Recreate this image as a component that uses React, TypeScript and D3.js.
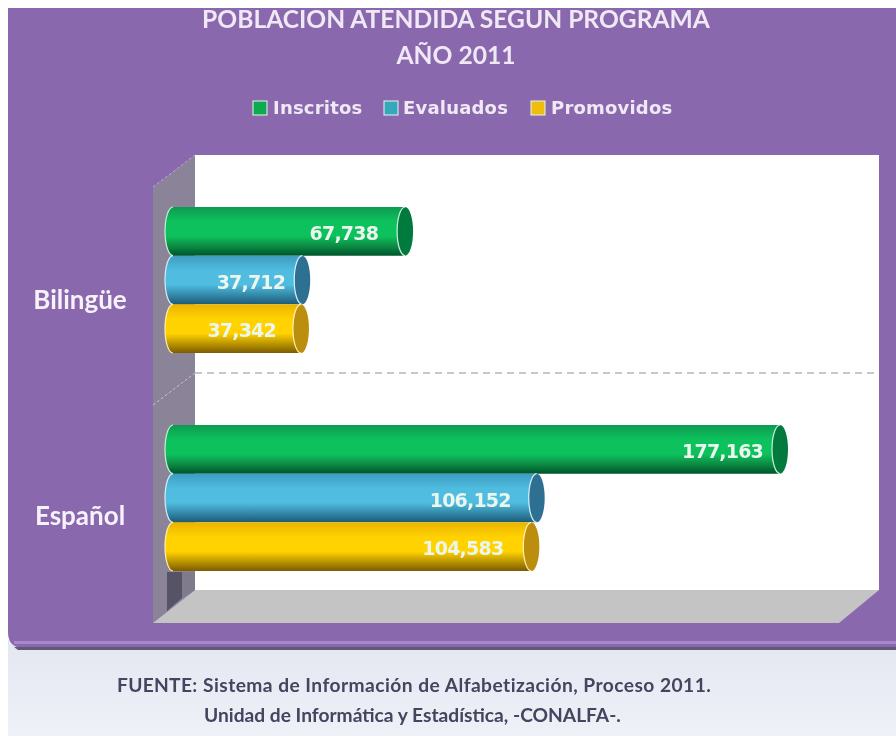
import React from "react";
import * as d3 from "d3";

const categories = ["Bilingüe", "Español"];
const seriesNames = ["Inscritos", "Evaluados", "Promovidos"];
const inscritos = [67738, 177163];
const evaluados = [37712, 106152];
const promovidos = [37342, 104583];
const seriesValues = [inscritos, evaluados, promovidos];
const titleLines = ["POBLACION ATENDIDA SEGUN PROGRAMA", "AÑO 2011"];
const sourceLabel = "FUENTE:";
const sourceLines = [
  "Sistema de Información de Alfabetización, Proceso 2011.",
  "Unidad de Informática y Estadística, -CONALFA-.",
];

const palette = [
  { top: "#0a9a50", mid: "#0cc25c", bot: "#04552c", cap: "#067a3e", edge: "#c8efd8", legend: "#0aab50" },
  { top: "#3c9cc0", mid: "#4fbce0", bot: "#1c5a76", cap: "#2f7092", edge: "#d4eef8", legend: "#36a8bc" },
  { top: "#eab400", mid: "#ffd200", bot: "#7c5c00", cap: "#bc8e08", edge: "#ffeeb0", legend: "#eebd10" },
];

const x = d3.scaleLinear().domain([0, 177163]).range([173, 780]);
const groupY = d3.scaleBand<string>().domain(categories).range([172, 608]);
const barY = d3.scaleBand<string>().domain(seriesNames).range([0, 146]);
const fmt = d3.format(",");
const capRx = 8;
const labelInset = [
  [27, 17, 25],
  [17, 26, 28],
];
const legendSwatchX = [253, 384, 531];
const legendTextX = [273, 403, 551];
const lato = "Lato, 'Open Sans', sans-serif";
const dejavu = "'DejaVu Sans', Verdana, sans-serif";

export default function App() {
  const bh = barY.bandwidth();
  const startX = x(0);
  return (
    <svg width={896} height={736} style={{ position: "absolute", left: 0, top: 0 }}>
      <defs>
        {palette.map((p, i) => (
          <linearGradient key={i} id={`bar${i}`} x1="0" y1="0" x2="0" y2="1">
            <stop offset="0" stopColor={p.top} />
            <stop offset="0.3" stopColor={p.mid} />
            <stop offset="0.6" stopColor={p.mid} />
            <stop offset="1" stopColor={p.bot} />
          </linearGradient>
        ))}
        <linearGradient id="bg" x1="0" y1="0" x2="0" y2="1">
          <stop offset="0" stopColor="#e4e7f1" />
          <stop offset="1" stopColor="#eff1f8" />
        </linearGradient>
        <filter id="soft" x="-5%" y="-5%" width="110%" height="110%">
          <feGaussianBlur stdDeviation="0.45" />
        </filter>
      </defs>

      <rect x={0} y={0} width={896} height={736} fill="#ffffff" />
      <rect x={8} y={640} width={888} height={96} fill="url(#bg)" />
      <path d="M8,8 H896 V648 H24 Q8,648 8,632 Z" fill="#8a68ae" />
      <rect x={14} y={641} width={882} height={3} fill="#a887cc" />
      <path d="M14,647 H896 V650 H18 Z" fill="#5f5a78" />

      <g filter="url(#soft)">
        {/* wall, side wall, floor */}
        <rect x={195} y={155} width={684} height={435} fill="#ffffff" />
        <polygon points="153,187 195,155 195,590 153,623" fill="#8b8397" />
        <polygon points="153,623 195,590 879,590 839,623" fill="#c4c4c4" />
        <polygon points="167,572 182,572 182,598 167,611" fill="#575366" />
        <polygon points="182,572 195,572 195,590 182,598" fill="#7f7a8c" />
        <line x1={195} x2={879} y1={373} y2={373} stroke="#8f8f8f" strokeWidth={1} strokeDasharray="7 5" />
        <line x1={153} x2={195} y1={405} y2={373} stroke="#c8c0d4" strokeWidth={1} strokeDasharray="3 2" />
        <line x1={153} x2={195} y1={187} y2={155} stroke="#b8a8cc" strokeWidth={1} strokeDasharray="3 2" />

        {/* bars */}
        {categories.map((cat, ci) =>
          seriesNames.map((s, si) => {
            const v = seriesValues[si][ci];
            const y0 = (groupY(cat) as number) + (groupY.bandwidth() - 146) / 2 - 1;
            const y = y0 + (barY(s) as number);
            const xe = x(v);
            const p = palette[si];
            const r = bh / 2;
            return (
              <g key={cat + s}>
                <path d={`M${startX},${y} A${capRx},${r} 0 0 0 ${startX},${y + bh} H${xe} A${capRx},${r} 0 0 1 ${xe},${y} Z`} fill={`url(#bar${si})`} />
                <path d={`M${startX},${y} A${capRx},${r} 0 0 0 ${startX},${y + bh}`} fill="none" stroke={p.edge} strokeWidth={1.2} />
                <ellipse cx={xe} cy={y + r} rx={capRx} ry={r} fill={p.cap} />
                <path d={`M${xe},${y} A${capRx},${r} 0 0 0 ${xe},${y + bh}`} fill="none" stroke={p.edge} strokeWidth={1.2} />
                <text x={xe - labelInset[ci][si]} y={y + r + 3} textAnchor="end" dominantBaseline="middle" fontFamily={dejavu} fontWeight={700} fontSize={19} letterSpacing={-0.8} fill="#eaf6ee">
                  {fmt(v)}
                </text>
              </g>
            );
          })
        )}

        {/* category labels */}
        {categories.map((cat, i) => (
          <text key={cat} x={80} y={(groupY(cat) as number) + groupY.bandwidth() / 2 + (i === 0 ? 21 : 19)} textAnchor="middle" dominantBaseline="middle" fontFamily={lato} fontWeight={700} fontSize={26} fill="#f6f2fa">
            {cat}
          </text>
        ))}

        {/* title */}
        {titleLines.map((t, i) => (
          <text key={t} x={456} y={28 + i * 36} textAnchor="middle" fontFamily={lato} fontWeight={700} fontSize={24.6} fill="#f0e8f4">
            {t}
          </text>
        ))}

        {/* legend */}
        {seriesNames.map((s, i) => (
          <g key={s}>
            <rect x={legendSwatchX[i]} y={101} width={14} height={14} fill={palette[i].legend} stroke="#e8f4ee" strokeWidth={1} />
            <text x={legendTextX[i]} y={114} fontFamily={dejavu} fontWeight={700} fontSize={18} letterSpacing={0.2} fill="#f0e8f4">
              {s}
            </text>
          </g>
        ))}

        {/* source */}
        <text x={117} y={692} fontFamily={lato} fontWeight={700} fontSize={19.2} letterSpacing={0.3} fill="#44445e">
          {sourceLabel}
        </text>
        <text x={203} y={692} fontFamily={lato} fontWeight={700} fontSize={19.2} letterSpacing={0.45} fill="#44445e">
          {sourceLines[0]}
        </text>
        <text x={204} y={722} fontFamily={lato} fontWeight={700} fontSize={19.2} fill="#44445e">
          {sourceLines[1]}
        </text>
      </g>
    </svg>
  );
}
